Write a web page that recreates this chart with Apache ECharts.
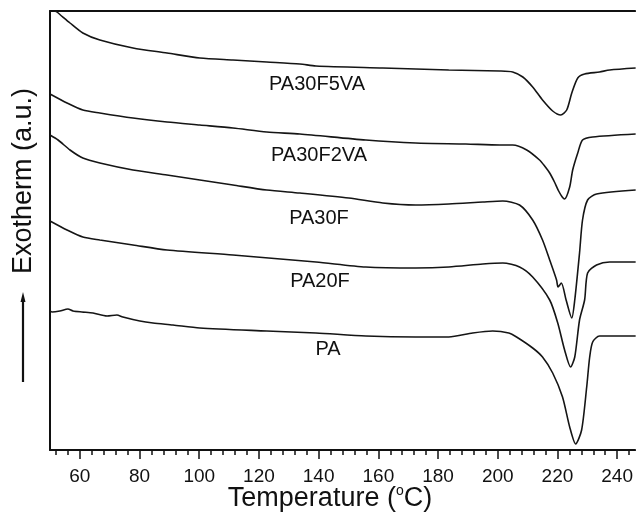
<!DOCTYPE html>
<html>
<head>
<meta charset="utf-8">
<script src="https://cdn.jsdelivr.net/npm/echarts@6/dist/echarts.min.js"></script>
<style>html,body{margin:0;padding:0;background:#fff}#c{width:636px;height:513px}</style>
</head>
<body>
<div id="c"></div>
<script>
// Temperature (°C) and exotherm (arbitrary units, offset curves)
var PA30F5VA_T = [51.3,52.3,56.7,61.0,66.7,77.8,89.2,100.2,111.3,122.6,133.7,139.1,161.5,183.6,200.7,205.0,208.4,211.7,215.0,218.4,221.1,223.1,224.8,226.8,229.1,234.1,237.5,246.2];
var PA30F5VA_Y = [440,438,427,417,410,402,397,392,390,388,386,384,382,380,379,378,373,363,350,339,335,340,357,372,376,378,380,382];

var PA30F2VA_T = [50,55.7,61.0,66.7,77.8,89.2,100.2,111.3,122.6,133.7,155.8,172.5,189.3,200.7,205.0,209.7,214.0,215.7,217.4,219.0,220.4,221.6,222.4,224.1,225.1,226.8,228.4,231.8,246.2];
var PA30F2VA_Y = [356,347,340,337,332,328,325,322,318,316,310,307,306,305,305,300,290,284,277,268,259,253,251,263,280,297,310,313,316];

var PA30F_T = [50,52.7,56.7,61.0,66.7,77.8,89.2,100.2,111.3,122.6,133.7,150.1,161.5,172.5,183.6,195.0,201.7,207.3,211.7,215.0,217.4,219.7,220.2,221.3,222.9,224.8,225.8,227.4,228.4,230.1,233.1,246.2];
var PA30F_Y = [315,310,300,292,287,280,275,270,265,260,257,252,247,245,246,248,249,245,230,210,190,170,163,167,150,132,150,197,230,250,256,260];

var PA20F_T = [50,55.7,61.0,66.7,77.8,89.2,111.3,139.1,155.8,172.5,183.6,195.0,201.7,207.3,211.7,217.4,220.1,222.4,224.4,225.8,227.4,229.1,230.1,233.1,237.5,246.2];
var PA20F_Y = [229,220,213,210,205,200,195,188,183,182,183,186,187,183,173,150,127,100,83,93,130,150,177,185,188,188];

var PA_T = [50,50.7,53.3,56.0,57.7,60.7,64.4,69.1,72.4,74.4,80.1,84.5,91.2,100.2,122.6,139.1,155.8,172.5,183.6,191.6,198.3,203.7,206.3,211.7,215.0,218.4,221.7,224.1,226.1,228.1,229.8,230.8,231.8,234.1,246.2];
var PA_Y = [139,138,139,141,139,138,137,134,135,133,129,127,125,122,119,117,114,113,113,117,119,117,113,102,93,77,53,23,6,20,63,93,108,114,114];

var seriesNames = ['PA30F5VA','PA30F2VA','PA30F','PA20F','PA'];
var majorTicks = [60,80,100,120,140,160,180,200,220,240];
var minorTicks = [];
for (var t = 52; t <= 244; t += 4) minorTicks.push(t);

function pairs(xs, ys){ return xs.map(function(x,i){ return [x, ys[i]]; }); }
var allData = [pairs(PA30F5VA_T,PA30F5VA_Y), pairs(PA30F2VA_T,PA30F2VA_Y), pairs(PA30F_T,PA30F_Y), pairs(PA20F_T,PA20F_Y), pairs(PA_T,PA_Y)];

var chart = echarts.init(document.getElementById('c'), null, {renderer:'canvas'});
var FONT = '"Liberation Sans", Arial, sans-serif';
var labelPos = [[317,84],[319,155],[319,218],[320,281],[328,349]];

var option = {
  animation: false,
  backgroundColor: '#fff',
  grid: {left: 50, right: 0, top: 11, bottom: 63},
  xAxis: [
    {type:'value', min:50, max:246, position:'bottom',
     axisLine:{show:true, lineStyle:{color:'#111', width:2}},
     axisTick:{show:true, customValues: majorTicks, length:9, lineStyle:{color:'#111', width:1.5}},
     axisLabel:{show:true, customValues: majorTicks, margin:17, fontSize:19, color:'#111', fontFamily:FONT},
     splitLine:{show:false}},
    {type:'value', min:50, max:246, position:'bottom',
     axisLine:{show:false},
     axisTick:{show:true, customValues: minorTicks, length:5, lineStyle:{color:'#111', width:1.5}},
     axisLabel:{show:false}, splitLine:{show:false}},
    {type:'value', min:50, max:246, position:'top',
     axisLine:{show:true, lineStyle:{color:'#111', width:2}},
     axisTick:{show:false}, axisLabel:{show:false}, splitLine:{show:false}}
  ],
  yAxis: {type:'value', min:0, max:439,
     axisLine:{show:true, lineStyle:{color:'#111', width:2}},
     axisTick:{show:false}, axisLabel:{show:false}, splitLine:{show:false}},
  series: allData.map(function(d, i){
    return {name: seriesNames[i], type:'line', data:d, xAxisIndex:0, showSymbol:false, symbol:'none',
      smooth:0.25, clip:true,
      lineStyle:{color:'#151515', width:1.6}};
  }),
  graphic: [
    {type:'text', x:330, y:484, style:{text:'Temperature ({s|o}C)', font:'27px '+FONT, fill:'#111', align:'center',
      rich:{s:{fontSize:14, fontFamily:FONT, fill:'#111', verticalAlign:'top', padding:[0,0,16,0]}}}},
    {type:'text', x:24, y:181, rotation: Math.PI/2, style:{text:'Exotherm (a.u.)', font:'27px '+FONT, fill:'#111', align:'center', verticalAlign:'middle'}},
    {type:'line', shape:{x1:23, y1:382, x2:23, y2:300}, style:{stroke:'#111', lineWidth:2.2}},
    {type:'polygon', shape:{points:[[23,292],[20.5,302],[25.5,302]]}, style:{fill:'#111'}}
  ].concat(seriesNames.map(function(n, i){
    return {type:'text', x:labelPos[i][0], y:labelPos[i][1], style:{text:n, font:'20px '+FONT, fill:'#111', align:'center', verticalAlign:'middle'}};
  }))
};
chart.setOption(option);
</script>
</body>
</html>
